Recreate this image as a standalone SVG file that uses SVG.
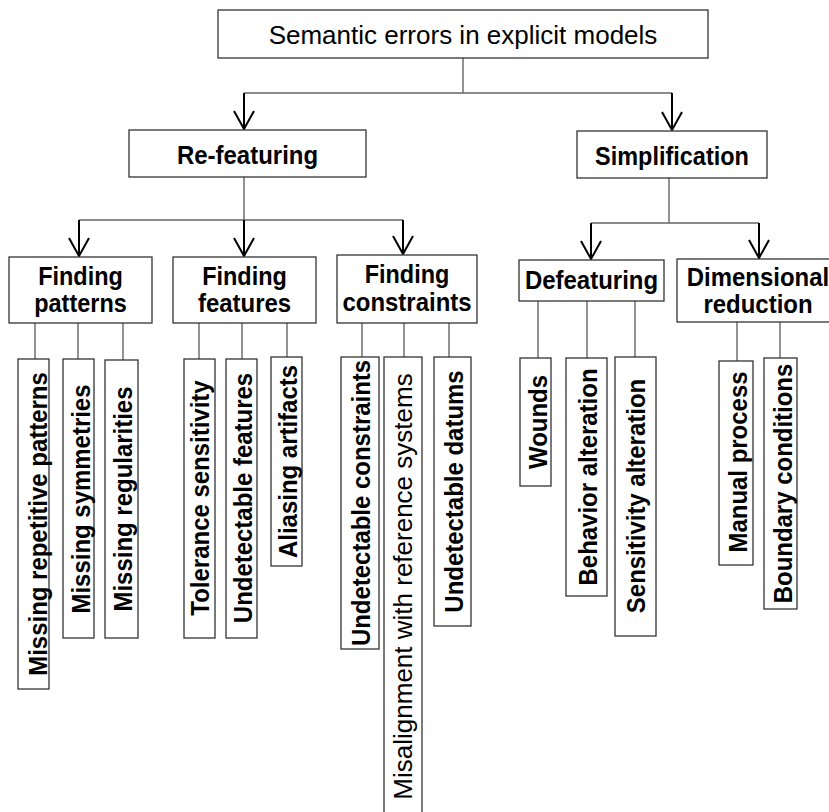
<svg xmlns="http://www.w3.org/2000/svg" width="829" height="812" viewBox="0 0 829 812">
<style>
.box{fill:#fff;stroke:#333;stroke-width:1.3}
.lbl{font-family:"Liberation Sans",Arial,sans-serif;font-size:25.5px;font-weight:bold;fill:#000;text-anchor:middle}
.reg{font-family:"Liberation Sans",Arial,sans-serif;font-size:26px;font-weight:normal;fill:#000;text-anchor:middle}
.ln{stroke:#666;stroke-width:1.4;fill:none}
.arw{stroke:#000;stroke-width:2;fill:none;marker-end:url(#arr)}
</style>
<defs>
<marker id="arr" markerUnits="userSpaceOnUse" viewBox="-20 -12 24 24" refX="0" refY="0" markerWidth="24" markerHeight="24" orient="auto">
<path d="M-18,-10 L0,0 L-18,10" fill="none" stroke="#000" stroke-width="2"/>
</marker>
</defs>
<rect width="829" height="812" fill="#fff"/>
<g id="connectors">
<path class="ln" d="M463,58 V93 M244,93 H672"/>
<path class="arw" d="M244,93 V129"/>
<path class="arw" d="M672,93 V130"/>
<path class="ln" d="M244,177 V220 M79,220 H403"/>
<path class="arw" d="M79,220 V256"/>
<path class="arw" d="M244,220 V256"/>
<path class="arw" d="M403,220 V254"/>
<path class="ln" d="M669,178 V223 M591,223 H759"/>
<path class="arw" d="M591,223 V259"/>
<path class="arw" d="M759,223 V258"/>
<path class="ln" d="M35,323 V359 M78,323 V359 M123,323 V360 M199,323 V359 M242,323 V359 M287,323 V357 M362,323 V357 M404,323 V357 M449,323 V357 M538,301 V358 M587,301 V358 M635,301 V357 M737,322 V361 M780,322 V358"/>
</g>
<g id="root"><rect class="box" x="218" y="10" width="490" height="48"/><text class="reg" x="463" y="44">Semantic errors in explicit models</text></g>
<g id="refeaturing"><rect class="box" x="129" y="130" width="237" height="47"/><text class="lbl" transform="translate(247.5,163.5) scale(0.94,1)">Re-featuring</text></g>
<g id="simplification"><rect class="box" x="577" y="131" width="190" height="47"/><text class="lbl" transform="translate(672,164.5) scale(0.92,1)">Simplification</text></g>
<g id="finding-patterns"><rect class="box" x="9" y="257" width="143" height="66"/><text class="lbl" transform="translate(80.5,284.5) scale(0.92,1)">Finding</text><text class="lbl" transform="translate(80.5,312) scale(0.92,1)">patterns</text></g>
<g id="finding-features"><rect class="box" x="173" y="257" width="143" height="66"/><text class="lbl" transform="translate(244.5,284.5) scale(0.92,1)">Finding</text><text class="lbl" transform="translate(244.5,312) scale(0.94,1)">features</text></g>
<g id="finding-constraints"><rect class="box" x="337" y="255" width="140" height="68"/><text class="lbl" transform="translate(407,283) scale(0.92,1)">Finding</text><text class="lbl" transform="translate(407,311) scale(0.94,1)">constraints</text></g>
<g id="defeaturing"><rect class="box" x="519" y="260" width="145" height="41"/><text class="lbl" transform="translate(591.5,288.5) scale(0.94,1)">Defeaturing</text></g>
<g id="dimensional-reduction"><rect class="box" x="677" y="259" width="165" height="63"/><text class="lbl" transform="translate(758,286) scale(0.94,1)">Dimensional</text><text class="lbl" transform="translate(758,313) scale(0.94,1)">reduction</text></g>
<g id="leaf1"><rect class="box" x="18" y="359" width="31" height="330"/><text class="lbl" transform="translate(46.5,524) rotate(-90) scale(0.94,1)">Missing repetitive patterns</text></g>
<g id="leaf2"><rect class="box" x="63" y="359" width="31" height="279"/><text class="lbl" transform="translate(89.5,499) rotate(-90) scale(0.94,1)">Missing symmetries</text></g>
<g id="leaf3"><rect class="box" x="105" y="360" width="33" height="278"/><text class="lbl" transform="translate(132.3,499) rotate(-90) scale(0.94,1)">Missing regularities</text></g>
<g id="leaf4"><rect class="box" x="184" y="359" width="31" height="279"/><text class="lbl" transform="translate(209,498) rotate(-90) scale(0.94,1)">Tolerance sensitivity</text></g>
<g id="leaf5"><rect class="box" x="226" y="359" width="31" height="279"/><text class="lbl" transform="translate(252,498) rotate(-90) scale(0.94,1)">Undetectable features</text></g>
<g id="leaf6"><rect class="box" x="271" y="357" width="31" height="209"/><text class="lbl" transform="translate(297,461.5) rotate(-90) scale(0.94,1)">Aliasing artifacts</text></g>
<g id="leaf7"><rect class="box" x="341" y="357" width="38" height="292"/><text class="lbl" transform="translate(370,503) rotate(-90) scale(0.94,1)">Undetectable constraints</text></g>
<g id="leaf8"><rect class="box" x="384" y="357" width="38" height="465"/><text class="reg" transform="translate(412,586.5) rotate(-90)">Misalignment with reference systems</text></g>
<g id="leaf9"><rect class="box" x="434" y="357" width="37" height="269"/><text class="lbl" transform="translate(463,491.5) rotate(-90) scale(0.94,1)">Undetectable datums</text></g>
<g id="leaf10"><rect class="box" x="520" y="358" width="31" height="128"/><text class="lbl" transform="translate(546.7,422) rotate(-90) scale(0.94,1)">Wounds</text></g>
<g id="leaf11"><rect class="box" x="566" y="358" width="41" height="238"/><text class="lbl" transform="translate(596.7,477) rotate(-90) scale(0.94,1)">Behavior alteration</text></g>
<g id="leaf12"><rect class="box" x="615" y="357" width="41" height="279"/><text class="lbl" transform="translate(645,496) rotate(-90) scale(0.94,1)">Sensitivity alteration</text></g>
<g id="leaf13"><rect class="box" x="719" y="361" width="34" height="204"/><text class="lbl" transform="translate(746.7,462) rotate(-90) scale(0.94,1)">Manual process</text></g>
<g id="leaf14"><rect class="box" x="764" y="358" width="33" height="251"/><text class="lbl" transform="translate(791.7,483.5) rotate(-90) scale(0.94,1)">Boundary conditions</text></g>
</svg>
